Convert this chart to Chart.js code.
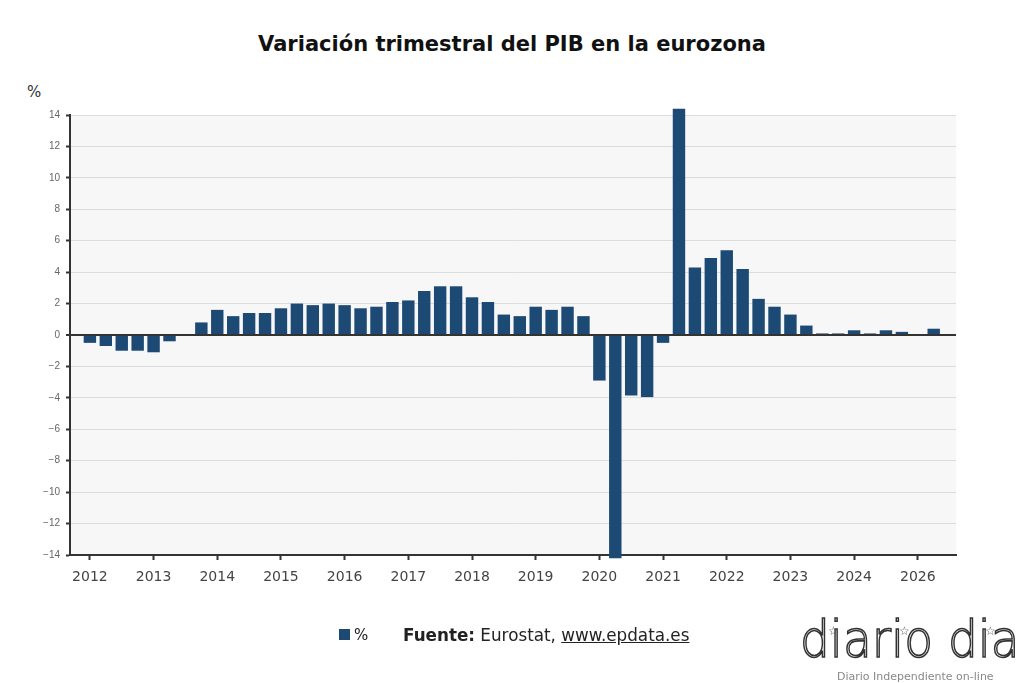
<!DOCTYPE html>
<html>
<head>
<meta charset="utf-8">
<script src="https://cdn.jsdelivr.net/npm/chart.js@4.4.0/dist/chart.umd.min.js"></script>
<style>
  body { margin:0; background:#fff; }
  #wrap { position:relative; width:1024px; height:683px; overflow:hidden; }
  #mycanvas { position:absolute; left:0; top:0; }
  #title { position:absolute; left:0; width:1024px; top:32px; text-align:center;
           font:bold 21px "DejaVu Sans", sans-serif; color:#111; margin:0; }
  #unit { position:absolute; left:27px; top:83px; font:15px "DejaVu Sans", sans-serif; color:#333; }
  #legend { position:absolute; left:339px; top:626px; font:15px "DejaVu Sans", sans-serif; color:#222; }
  #legend .sq { display:inline-block; width:11px; height:11px; background:#1c4a75; margin-right:4px; }
  #source { position:absolute; left:403px; top:625px; font:16.8px "DejaVu Sans", sans-serif; color:#222; }
  #logo { position:absolute; left:800px; top:612px; width:224px; height:71px; }
  #logo .big { position:absolute; left:0; top:2px; font:300 42px "DejaVu Sans", sans-serif; color:#fff;
               -webkit-text-stroke:1.3px #333; white-space:nowrap; line-height:1;
               transform:scale(1.12,1.22); transform-origin:left top; }
  #logo .star { position:absolute; z-index:2; font:12px "DejaVu Sans", sans-serif; color:#555; }
  #logo .small { position:absolute; left:37px; top:58px; font:11px "DejaVu Sans", sans-serif; color:#888; white-space:nowrap; }
</style>
</head>
<body>
<div id="wrap">
  <h1 id="title">Variación trimestral del PIB en la eurozona</h1>
  <div id="unit">%</div>
  <canvas id="mycanvas" width="1024" height="683"></canvas>
  <div id="legend"><span class="sq"></span>%</div>
  <div id="source"><b>Fuente:</b> Eurostat, <u>www.epdata.es</u></div>
  <div id="logo">
    <div class="big">diario dia</div>
    <span class="star" style="left:28px;top:12px">☆</span>
    <span class="star" style="left:99px;top:12px">☆</span>
    <span class="star" style="left:185px;top:12px">☆</span>
    <div class="small">Diario Independiente on-line</div>
  </div>
</div>
<script>
// variacion del PIB, un valor por trimestre (2012 T1 ...)
const values = [
  -0.5, -0.7, -1.0, -1.0,
  -1.1, -0.4, 0, 0.8,
  1.6, 1.2, 1.4, 1.4,
  1.7, 2.0, 1.9, 2.0,
  1.9, 1.7, 1.8, 2.1,
  2.2, 2.8, 3.1, 3.1,
  2.4, 2.1, 1.3, 1.2,
  1.8, 1.6, 1.8, 1.2,
  -2.9, -14.2, -3.85, -3.95,
  -0.5, 14.4, 4.3, 4.9,
  5.4, 4.2, 2.3, 1.8,
  1.3, 0.6, 0.1, 0.1,
  0.3, 0.1, 0.3, 0.2,
  0, 0.4
];
// etiqueta de año cada 4 trimestres (tal cual aparece en el original)
const yearLabels = ['2012','2013','2014','2015','2016','2017','2018','2019','2020','2021','2022','2023','2024','2026'];
const barColor = '#1c4a75';

const plotBg = {
  id: 'plotBg',
  beforeDraw(chart) {
    const a = chart.chartArea, c = chart.ctx;
    c.save();
    c.fillStyle = '#f7f7f7';
    c.fillRect(a.left, a.top, a.right - a.left, a.bottom - a.top);
    c.restore();
  }
};

const data = {
  datasets: [{
    label: '%',
    data: values.map((v, i) => ({ x: i, y: v })),
    backgroundColor: barColor,
    borderWidth: 0,
    barPercentage: 0.78,
    categoryPercentage: 1,
    clip: false
  }]
};

const config = {
  type: 'bar',
  data,
  options: {
    responsive: false,
    animation: false,
    layout: { padding: { left: 18, right: 68, top: 115, bottom: 88 } },
    plugins: { legend: { display: false }, tooltip: { enabled: false } },
    scales: {
      x: {
        type: 'linear',
        offset: false,
        min: -1.25,
        max: 54.4,
        afterBuildTicks: s => { s.ticks = yearLabels.map((l, i) => ({ value: i * 4 })); },
        afterFit: s => { s.height = 40; },
        ticks: {
          autoSkip: false,
          maxRotation: 0,
          padding: 9,
          color: '#444',
          font: { family: 'DejaVu Sans', size: 14 },
          callback: v => yearLabels[v / 4]
        },
        grid: { offset: false, drawOnChartArea: false, tickLength: 5, tickColor: '#333', tickWidth: 2 },
        border: { color: '#333', width: 2 }
      },
      y: {
        min: -14,
        max: 14,
        afterFit: s => { s.width = 52; },
        ticks: {
          stepSize: 2,
          padding: 6,
          color: '#666',
          font: { family: 'Liberation Sans', size: 10 },
          callback: v => v < 0 ? '\u2212' + Math.abs(v) : String(v)
        },
        grid: {
          color: c => c.tick && c.tick.value === 0 ? '#333' : '#dcdcdc',
          lineWidth: c => c.tick && c.tick.value === 0 ? 2 : 1,
          tickColor: '#333',
          tickLength: 4,
          tickWidth: 2
        },
        border: { color: '#333', width: 2 }
      }
    }
  },
  plugins: [plotBg]
};

const ctx = document.getElementById('mycanvas');
const myChart = new Chart(ctx, config);
</script>
</body>
</html>
